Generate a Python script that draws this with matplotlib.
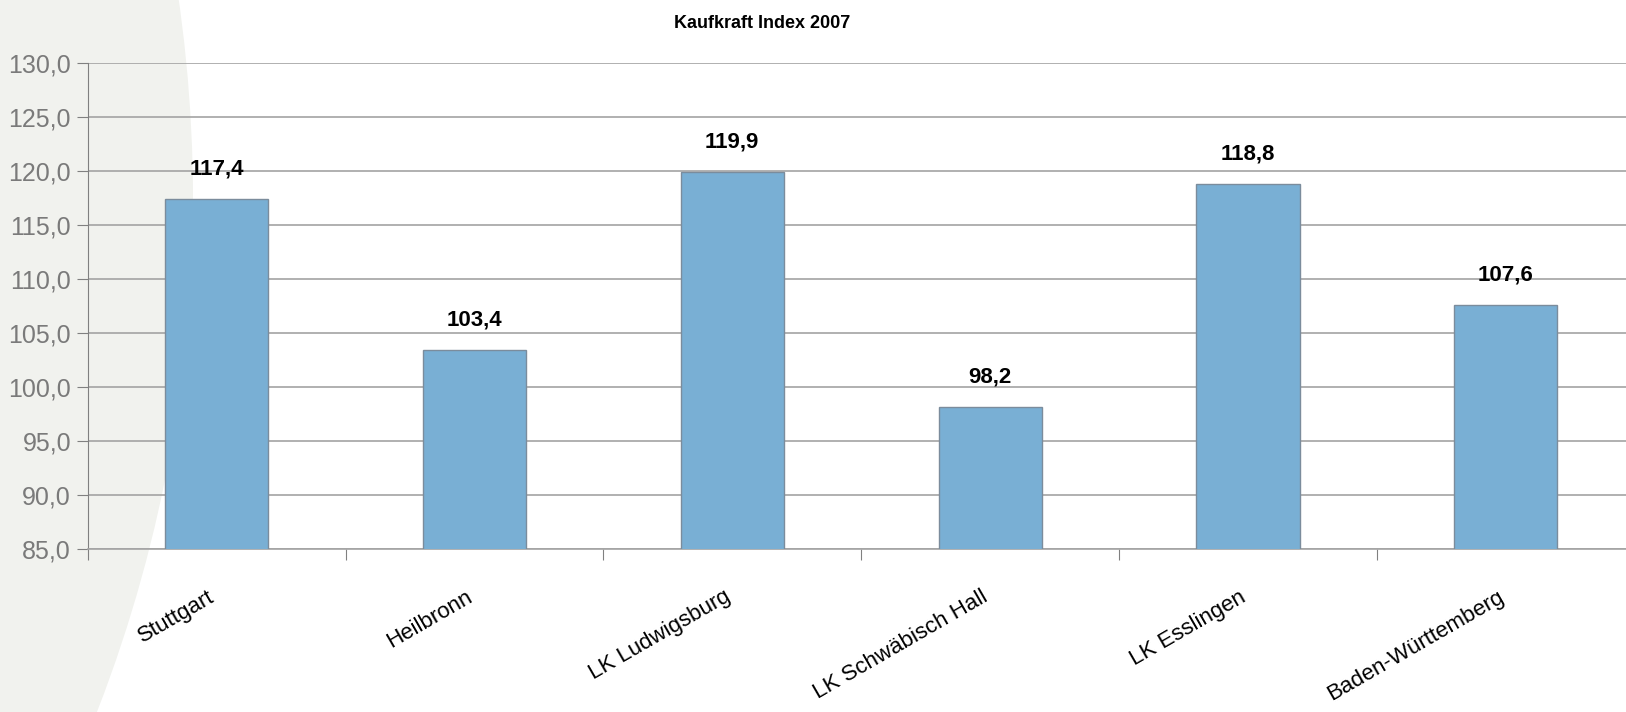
import numpy as np
import matplotlib.pyplot as plt
from matplotlib.patches import Circle
from matplotlib.transforms import IdentityTransform, ScaledTranslation

# data
regions = ["Stuttgart", "Heilbronn", "LK Ludwigsburg", "LK Schwäbisch Hall",
           "LK Esslingen", "Baden-Württemberg"]
index_2007 = [117.4, 103.4, 119.9, 98.2, 118.8, 107.6]
y_ticks = [85, 90, 95, 100, 105, 110, 115, 120, 125, 130]

narrow = ["Liberation Sans Narrow", "Liberation Sans", "DejaVu Sans"]

fig = plt.figure(figsize=(16.26, 7.12), dpi=100)
fig.patch.set_facecolor("white")

# pale swoosh in the background on the left (pixel coords)
W, H = 1626, 712
bg = Circle((193 - 1413, H - 200), 1413, transform=IdentityTransform(),
            facecolor="#f1f2ee", edgecolor="none", zorder=-1)
fig.patches.append(bg)

ax = fig.add_axes([87.7 / W, 1 - 549 / H, 1547 / W, (549 - 63.3) / H])
ax.set_zorder(1)
ax.patch.set_alpha(0)

x = np.arange(len(regions))
bars = ax.bar(x, index_2007, width=0.40, bottom=0, color="#79afd4",
              edgecolor="#7b8c9c", linewidth=1.0, zorder=3)

for xi, v in zip(x, index_2007):
    ax.annotate(f"{v:.1f}".replace(".", ","), (xi, v), xytext=(0, 14),
                textcoords="offset points", ha="center", va="bottom",
                fontsize=16, fontweight="bold", family=narrow, color="black")

ax.set_ylim(85, 130)
ax.set_xlim(-0.5, len(regions) - 0.5)
ax.set_yticks(y_ticks)
ax.set_yticklabels([f"{t:.1f}".replace(".", ",") for t in y_ticks],
                   fontsize=18, family=narrow, color="#7a7a7a")
ax.yaxis.grid(True, color="#a3a3a3", linewidth=1.2, zorder=0)
ax.set_axisbelow(True)

# category boundaries as major ticks, labels on minor ticks
ax.set_xticks(np.arange(len(regions) + 1) - 0.5)
ax.set_xticklabels([])
ax.set_xticks(x, minor=True)
ax.set_xticklabels(regions, minor=True, rotation=30, ha="right",
                   rotation_mode="anchor", fontsize=16,
                   family=["Liberation Sans", "DejaVu Sans"])
ax.tick_params(axis="x", which="minor", length=0, pad=27)
ax.tick_params(axis="x", which="major", length=8, color="#808080", direction="out")
ax.tick_params(axis="y", length=8, color="#808080", pad=4)

shift = ScaledTranslation(-9 / 100, 0, fig.dpi_scale_trans)
for lab in ax.get_xticklabels(minor=True):
    lab.set_transform(lab.get_transform() + shift)

for s in ["top", "right"]:
    ax.spines[s].set_visible(False)
ax.spines["left"].set_color("#808080")
ax.spines["bottom"].set_color("#a3a3a3")
ax.spines["bottom"].set_linewidth(1.2)

fig.text(762 / W, 1 - 23 / H, "Kaufkraft Index 2007", ha="center", va="center",
         fontsize=13, fontweight="bold", family=narrow)

fig.savefig("out.png", dpi=100)
